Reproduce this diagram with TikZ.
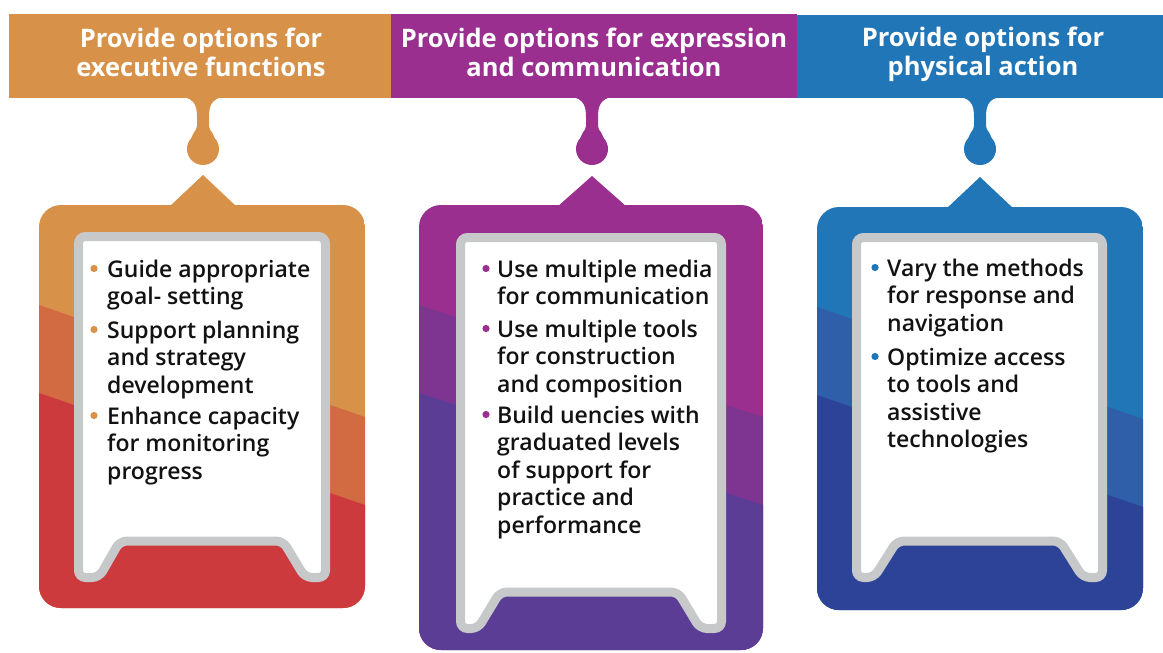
\documentclass[tikz,border=0pt]{standalone}
\usepackage{fontspec}
\setmainfont{Open Sans}
\IfFontExistsTF{Open Sans SemiBold}{\newfontfamily\semifont{Open Sans SemiBold}}{%
  \IfFontExistsTF{Open Sans Semibold}{\newfontfamily\semifont{Open Sans Semibold}}{%
    \newfontfamily\semifont{Open Sans}[FakeBold=1.2]}}

% palette
\definecolor{orA}{HTML}{D79148}
\definecolor{orB}{HTML}{D26B41}
\definecolor{orC}{HTML}{CC3A3E}
\definecolor{puA}{HTML}{9A2F8F}
\definecolor{puB}{HTML}{7D3591}
\definecolor{puC}{HTML}{5B3D96}
\definecolor{blA}{HTML}{2176B7}
\definecolor{blB}{HTML}{2E5FA8}
\definecolor{blC}{HTML}{2D4398}
\definecolor{frame}{HTML}{C7C8C9}
\definecolor{ink}{HTML}{121212}

% line stacks whose baseline is the first line
\newcommand\leftlines[1]{\begin{tabular}[t]{@{}l@{}}#1\end{tabular}}
\newcommand\midlines[1]{\begin{tabular}[t]{@{}c@{}}#1\end{tabular}}

\begin{document}
\begin{tikzpicture}[x=1pt,y=-1pt,
  head/.style={anchor=base, text=white, inner sep=0pt,
    font=\fontsize{25.5}{29.5}\selectfont\bfseries},
  item/.style={anchor=base west, text=ink, inner sep=0pt,
    font=\fontsize{23}{27.5}\selectfont\semifont},
  sheet/.style={fill=white, draw=frame, line width=9pt, rounded corners=7pt}]
\useasboundingbox (0,0) rectangle (1163,653);

% stem with a drop-shaped knob hanging under a header
\newcommand\udlstem[2]{%
  \fill[#2] (#1-30,96) .. controls (#1-9,96) and (#1-6,104) .. (#1-6,117)
    -- (#1-6,126) .. controls (#1-6,131) and (#1-12,133) .. (#1-12,142)
    -- (#1+12,142) .. controls (#1+12,133) and (#1+6,131) .. (#1+6,126)
    -- (#1+6,117) .. controls (#1+6,104) and (#1+9,96) .. (#1+30,96) -- cycle;
  \fill[#2] (#1,149) circle (16);}

% banded board
\newcommand\udlboard[7]{% x1, x2, y1, y2, colours A B C
  \begin{scope}
    \clip[rounded corners=22pt] (#1,#3) rectangle (#2,#4);
    \fill[#5] (#1,#3) rectangle (#2,#4);
    \fill[#6] (#1,{#3+100}) -- (#2,{#3+212}) -- (#2,#4) -- (#1,#4) -- cycle;
    \fill[#7] (#1,{#3+188}) -- (#2,{#3+300}) -- (#2,#4) -- (#1,#4) -- cycle;
  \end{scope}}

% header band
\fill[orA] (9,14) rectangle (391,97.5);
\fill[puA] (391,14) rectangle (797,97.5);
\fill[blA] (797,14.5) rectangle (1163,97.5);

\node[head] (h1) at (201,47) {\midlines{Provide options for\\executive functions}};
\node[head] (h2) at (594,47) {\midlines{Provide options for expression\\and communication}};
\node[head] (h3) at (983,46) {\midlines{Provide options for\\physical action}};

\udlstem{203}{orA}
\udlstem{592}{puA}
\udlstem{980}{blA}

% pointers
\fill[orA] (169,207) -- (203,175) -- (237,207) -- cycle;
\fill[puA] (557,207) -- (592,176) -- (627,207) -- cycle;
\fill[blA] (946,209) -- (980,177) -- (1014,209) -- cycle;

% boards
\udlboard{39}{365}{205}{608}{orA}{orB}{orC}
\udlboard{419}{763}{205}{650}{puA}{puB}{puC}
\udlboard{817}{1143}{207}{610}{blA}{blB}{blC}

% white sheets with a notch at the foot
\draw[sheet] (78.5,236.5) -- (325.5,236.5) -- (325.5,577.5) -- (305,577.5)
  -- (283,541) -- (120,541) -- (99,577.5) -- (78.5,577.5) -- cycle;
\draw[sheet] (460.5,237.5) -- (721.5,237.5) -- (721.5,628.5) -- (700,628.5)
  -- (678,592) -- (500,592) -- (478,628.5) -- (460.5,628.5) -- cycle;
\draw[sheet] (856.5,237.5) -- (1102.5,237.5) -- (1102.5,577.5) -- (1083,577.5)
  -- (1060,541) -- (897,541) -- (874,577.5) -- (856.5,577.5) -- cycle;

% first column
\node[item] (o1) at (107,277) {\leftlines{Guide appropriate\\goal- setting}};
\node[item] (o2) at (107,338) {\leftlines{Support planning\\and strategy\\development}};
\node[item] (o3) at (107,424) {\leftlines{Enhance capacity\\for monitoring\\progress}};
% second column
\node[item] (p1) at (497,277) {\leftlines{Use multiple media\\for communication}};
\node[item] (p2) at (497,337) {\leftlines{Use multiple tools\\for construction\\and composition}};
\node[item] (p3) at (497,423) {\leftlines{Build uencies with\\graduated levels\\of support for\\practice and\\performance}};
% third column
\node[item] (b1) at (887,276) {\leftlines{Vary the methods\\for response and\\navigation}};
\node[item] (b2) at (887,365) {\leftlines{Optimize access\\to tools and\\assistive\\technologies}};

% bullets
\foreach \n in {o1,o2,o3} \fill[orA] ([xshift=-13pt,yshift=8.5pt]\n.base west) circle (3.6pt);
\foreach \n in {p1,p2,p3} \fill[puA] ([xshift=-11pt,yshift=8.5pt]\n.base west) circle (3.6pt);
\foreach \n in {b1,b2} \fill[blA] ([xshift=-12pt,yshift=8.5pt]\n.base west) circle (3.6pt);
\end{tikzpicture}
\end{document}
